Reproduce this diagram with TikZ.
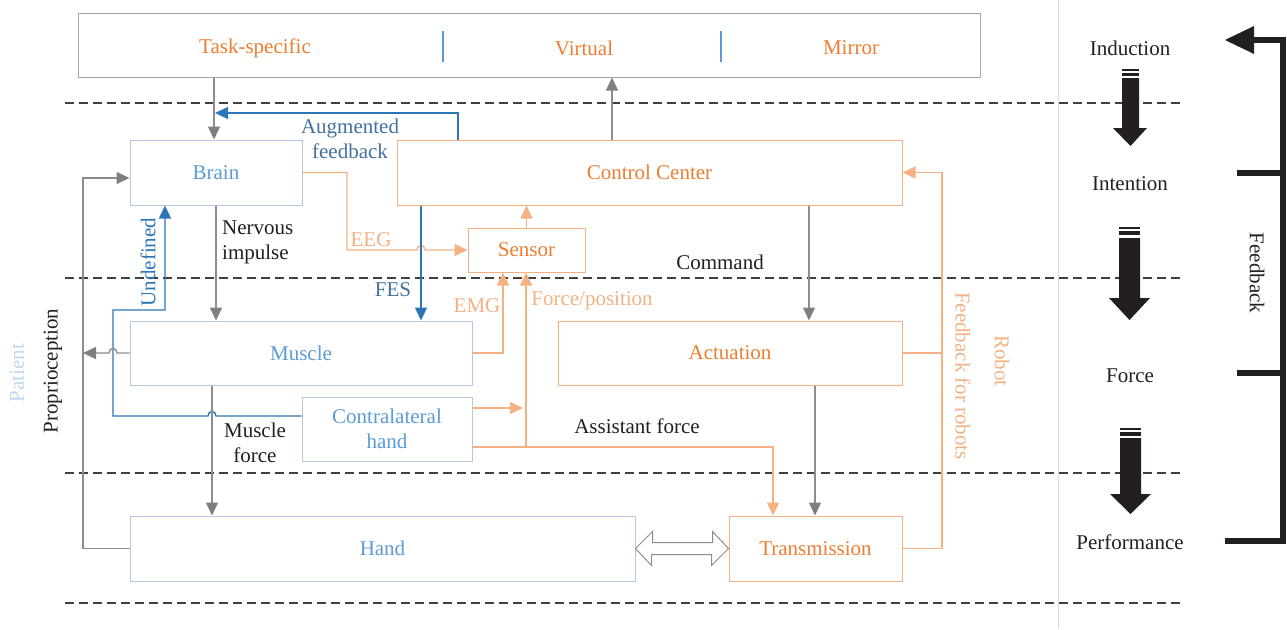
\documentclass[tikz,border=0pt]{standalone}
\usepackage{fontspec}
\setmainfont{Liberation Serif}
\usetikzlibrary{arrows.meta,calc}
\definecolor{oline}{HTML}{F4B183}
\definecolor{otext}{HTML}{ED7D31}
\definecolor{bbox}{HTML}{B4C7E7}
\definecolor{btext}{HTML}{5B9BD5}
\definecolor{bline}{HTML}{2E75B6}
\definecolor{blab}{HTML}{41719C}
\definecolor{gline}{HTML}{8C8C8C}
\definecolor{ghead}{HTML}{7F7F7F}
\definecolor{gbox}{HTML}{A6A6A6}
\definecolor{dashc}{HTML}{404040}
\definecolor{ink}{HTML}{231F20}
\definecolor{pat}{HTML}{BDD7EE}
\definecolor{sep}{HTML}{D9D9D9}
\begin{document}
\begin{tikzpicture}[x=1pt,y=-1pt,
  font=\fontsize{21}{25}\selectfont,
  bx/.style={draw=bbox, text=btext, line width=1pt, inner sep=0pt, align=center},
  ox/.style={draw=oline, text=otext, line width=1pt, inner sep=0pt, align=center},
  tip/.style={-{Triangle[length=13pt,width=12pt]}},
  garrow/.style={draw=gline, line width=1.4pt, -{Triangle[length=13pt,width=12pt,color=ghead]}},
  barrow/.style={draw=bline, line width=1.4pt, tip},
  oarrow/.style={draw=oline, line width=1.4pt, tip},
  oplain/.style={draw=oline, line width=1.4pt},
  dline/.style={draw=dashc, line width=1.2pt, dash pattern=on 9pt off 5pt},
  lab/.style={text=ink, inner sep=0pt, align=center},
  blackarrow/.style={fill=ink, draw=none}
]
\useasboundingbox (0,0) rectangle (1287,629);

% separator and dashed lines
\draw[sep, line width=1pt] (1058,0) -- (1058,629);
\foreach \yy in {103,278,473,603} \draw[dline] (65,\yy) -- (1183,\yy);

% column coordinates
\coordinate (xa) at (214,0);
\coordinate (xaug) at (458,0);
\coordinate (xcc) at (612,0);
\coordinate (xfes) at (421,0);
\coordinate (xemg) at (503,0);
\coordinate (xast) at (773,0);
\coordinate (xcmd) at (809,0);
\coordinate (xact) at (815,0);
\coordinate (xrb) at (942,0);
\coordinate (xmf) at (212,0);
\coordinate (xud) at (165,0);
\coordinate (y408) at (0,408);
\coordinate (y416) at (0,416);
\coordinate (y178) at (0,178);
\coordinate (jn) at (526,447);
\coordinate (augend) at (215,113);
\coordinate (cfe) at (523,408);
\coordinate (mlend) at (83,353);

% nodes
\node[draw=gbox, line width=1pt, minimum width=902pt, minimum height=64pt, inner sep=0pt] (top) at (529,45) {};
\node[text=otext] (tsk) at (255,48) {Task-specific};
\node[text=otext] (vir) at (584,48) {Virtual};
\node[text=otext] (mir) at (851,48) {Mirror};
\draw[btext, line width=1.2pt] (443,31) -- (443,62);
\draw[btext, line width=1.2pt] (721,31) -- (721,62);

\node[bx, minimum width=172pt, minimum height=65pt] (brain) at (216,172.5) {Brain};
\node[ox, minimum width=505pt, minimum height=65pt] (cc) at (649.5,172.5) {Control Center};
\node[ox, minimum width=117pt, minimum height=44pt] (sensor) at (526.5,250) {Sensor};
\node[bx, minimum width=342pt, minimum height=64pt] (muscle) at (301,353) {Muscle};
\node[ox, minimum width=344pt, minimum height=64pt] (act) at (730,353) {Actuation};
\node[bx, minimum width=170pt, minimum height=64pt] (contra) at (387,429) {Contralateral\\hand};
\node[bx, minimum width=505pt, minimum height=65pt] (hand) at (382.5,548.5) {Hand};
\node[ox, minimum width=173pt, minimum height=65pt] (trans) at (815.5,548.5) {Transmission};

% connectors
\draw[garrow] (top.south -| xa) -- (brain.north -| xa);
\draw[barrow] (cc.north -| xaug) |- (augend);
\draw[garrow] (cc.north -| xcc) -- (top.south -| xcc);
\draw[oarrow] (brain.east) -| (347,250) -- (417,250) .. controls (417,244) and (425,244) .. (425,250) -- (sensor.west);
\draw[barrow] (cc.south -| xfes) -- (muscle.north -| xfes);
\draw[garrow] (brain.south) -- (muscle.north -| brain.south);
\draw[oarrow] (sensor.north) -- (cc.south -| sensor.north);
\draw[oarrow] (muscle.east) -| (sensor.south -| xemg);
\draw[oarrow] (jn) -- (sensor.south -| jn);
\draw[oarrow] (contra.east |- y408) -- (cfe);
\draw[oarrow] (contra.east |- jn) -| (trans.north -| xast);
\draw[garrow] (cc.south -| xcmd) -- (act.north -| xcmd);
\draw[garrow] (act.south -| xact) -- (trans.north -| xact);
\draw[oarrow] (trans.east) -| (xrb |- cc.east) -- (cc.east);
\draw[oplain] (act.east) -- (act.east -| xrb);
\draw[barrow] (contra.west |- y416) -- (216,416) .. controls (216,410) and (208,410) .. (208,416) -- (113,416) -- (113,310) -- (165,310) -- (brain.south -| xud);
\draw[garrow] (hand.west) -| (83,178) -- (brain.west |- y178);
\draw[garrow] (muscle.west) -- (117,353) .. controls (117,347) and (109,347) .. (109,353) -- (mlend);
\draw[garrow] (muscle.south -| xmf) -- (hand.north -| xmf);

% hollow double arrow
\draw[gline, line width=1pt, fill=white] (hand.east) -- ++(17,-17) -- ++(0,11) -- ++(60,0) -- ++(0,-11) -- (trans.west) -- ++(-17,17) -- ++(0,-11) -- ++(-60,0) -- ++(0,11) -- cycle;

% labels
\node[text=blab, align=center, inner sep=0pt] (laug) at (350,138.5) {Augmented\\feedback};
\node[lab, align=left, anchor=west] (lnerv) at (222,242) {Nervous\\impulse};
\node[text=oline, inner sep=0pt] (leeg) at (371,240) {EEG};
\node[text=blab, inner sep=0pt] (lfes) at (393,290) {FES};
\node[text=oline, inner sep=0pt] (lemg) at (477,306) {EMG};
\node[text=oline, inner sep=0pt] (lfp) at (592,301) {Force/position};
\node[lab] (lcmd) at (720,262) {Command};
\node[text=bline, rotate=90, inner sep=0pt] (lund) at (148,262) {Undefined};
\node[lab, rotate=90] (lprop) at (53,371) {Proprioception};
\node[text=pat, rotate=90, inner sep=0pt] (lpat) at (17,373) {Patient};
\node[lab] (lmf) at (255,443) {Muscle\\force};
\node[lab] (last) at (637,426) {Assistant force};
\node[text=oline, rotate=-90, inner sep=0pt] (lfr) at (963,376) {Feedback for robots};
\node[text=oline, rotate=-90, inner sep=0pt] (lrob) at (1002,361) {Robot};

% right column
\node[lab] (ind) at (1130,48) {Induction};
\node[lab] (inte) at (1130,184) {Intention};
\node[lab] (frc) at (1130,376) {Force};
\node[lab] (perf) at (1130,542) {Performance};
\node[lab, rotate=-90] (fb) at (1257,273) {Feedback};

% big black arrows
\fill[blackarrow] (1122,69) rectangle (1139,70.5);
\fill[blackarrow] (1122,72.5) rectangle (1139,75.5);
\fill[blackarrow] (1122,78) -- (1139,78) -- (1139,128) -- (1147,128) -- (1130.5,146) -- (1113,128) -- (1122,128) -- cycle;
\fill[blackarrow] (1119,227) rectangle (1140,229);
\fill[blackarrow] (1119,231) rectangle (1140,235);
\fill[blackarrow] (1119,238) -- (1140,238) -- (1140,298) -- (1150,298) -- (1129.5,320) -- (1109,298) -- (1119,298) -- cycle;
\fill[blackarrow] (1120,428) rectangle (1141,430);
\fill[blackarrow] (1120,432) rectangle (1141,436);
\fill[blackarrow] (1120,438) -- (1141,438) -- (1141,494) -- (1151,494) -- (1130.5,514) -- (1110,494) -- (1120,494) -- cycle;

% feedback bracket
\draw[ink, line width=6pt] (1250,40) -- (1283,40) -- (1283,541) -- (1225,541);
\fill[ink] (1225,40) -- (1254,26) -- (1254,54) -- cycle;
\draw[ink, line width=6pt] (1237,173) -- (1283,173);
\draw[ink, line width=6pt] (1237,373) -- (1283,373);
\end{tikzpicture}
\end{document}
